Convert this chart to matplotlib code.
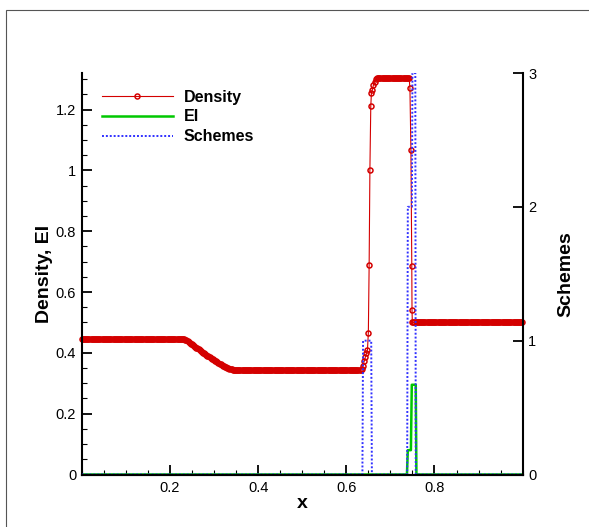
#!/usr/bin/env python3
"""Lax shock tube: density, EI indicator and scheme flag (Tecplot-like look)."""

import numpy as np
import matplotlib
matplotlib.use("Agg")
import matplotlib.pyplot as plt
from matplotlib.patches import Rectangle

plt.rcParams["font.family"] = ["Liberation Sans", "DejaVu Sans"]

# ---- data ----
DX = 0.0025  # cell spacing of the plotted solution

# constant states
rho_left = 0.445
rho_mid = 0.345
rho_post = 1.304
rho_right = 0.5

# rarefaction fan
fan_x = [0.2350, 0.2375, 0.2400, 0.2425, 0.2450, 0.2475, 0.2500, 0.2525, 0.2550,
         0.2575, 0.2600, 0.2625, 0.2650, 0.2675, 0.2700, 0.2725, 0.2750, 0.2775,
         0.2800, 0.2825, 0.2850, 0.2875, 0.2900, 0.2925, 0.2950, 0.2975, 0.3000,
         0.3025, 0.3050, 0.3075, 0.3100, 0.3125, 0.3150, 0.3175, 0.3200, 0.3225,
         0.3250, 0.3275, 0.3300, 0.3325, 0.3350, 0.3375, 0.3400, 0.3425, 0.3450]
fan_rho = [0.443, 0.441, 0.439, 0.436, 0.433, 0.4305, 0.428, 0.425, 0.422,
           0.4195, 0.417, 0.4145, 0.412, 0.409, 0.406, 0.4035, 0.401, 0.3985,
           0.396, 0.3935, 0.391, 0.3885, 0.386, 0.3835, 0.381, 0.3785, 0.376,
           0.374, 0.372, 0.3695, 0.367, 0.3645, 0.362, 0.360, 0.358, 0.356,
           0.354, 0.352, 0.350, 0.3485, 0.347, 0.346, 0.3455, 0.345, 0.345]

# contact discontinuity
contact_x = [0.635, 0.638, 0.6405, 0.643, 0.6455, 0.648, 0.650, 0.6518, 0.6535, 0.6555,
             0.657, 0.659, 0.6615, 0.664, 0.667]
contact_rho = [0.348, 0.358, 0.372, 0.385, 0.398, 0.41, 0.466, 0.69, 1.0, 1.21,
               1.255, 1.265, 1.28, 1.292, 1.30]

# shock
shock_x = [0.7443, 0.7465, 0.7485, 0.749, 0.7497]
shock_rho = [1.27, 1.068, 0.687, 0.542, 0.5]

# EI indicator (left axis)
ei_x = [0.0, 0.7375, 0.7395, 0.7465, 0.7485, 0.7575, 0.759, 1.0]
ei_val = [0.0, 0.0, 0.08, 0.08, 0.295, 0.295, 0.0, 0.0]

# scheme flag (right axis)
scheme_x = [0.0, 0.6365, 0.638, 0.6565, 0.658, 0.738, 0.7395, 0.7488, 0.750, 0.7565, 0.7575, 1.0]
scheme_val = [0, 0, 1, 1, 0, 0, 2, 2, 3, 3, 0, 0]


def plateau(x0, x1, value):
    xs = np.arange(x0, x1 + DX / 2, DX)
    return list(xs), [value] * len(xs)


segments = [
    plateau(0.0, 0.2325, rho_left),
    (fan_x, fan_rho),
    plateau(0.3475, 0.6325, rho_mid),
    (contact_x, contact_rho),
    plateau(0.67, 0.7425, rho_post),
    (shock_x, shock_rho),
    plateau(0.752, 1.0, rho_right),
]
x_rho = np.concatenate([np.asarray(s[0], dtype=float) for s in segments])
rho = np.concatenate([np.asarray(s[1], dtype=float) for s in segments])

RED = "#d40000"
GREEN = "#00c800"
BLUE = "#3030ff"

fig = plt.figure(figsize=(5.89, 5.27), dpi=100)
ax = fig.add_axes([81.7 / 589, 1 - 474.5 / 527, 441 / 589, 401.5 / 527])
ax2 = ax.twinx()

l_rho, = ax.plot(x_rho, rho, color=RED, lw=0.8, marker="o", markersize=3.6,
                 markerfacecolor="none", markeredgewidth=1.1, clip_on=False,
                 label="Density")
l_ei, = ax.plot(ei_x, ei_val, color=GREEN, lw=1.8, label="EI")
l_sch, = ax2.plot(scheme_x, scheme_val, color=BLUE, lw=1.4, linestyle=(0, (1, 1)),
                  label="Schemes")

ax.set_xlim(0, 1)
ax.set_ylim(0, 1.32)
ax2.set_ylim(0, 3)

ax.set_xticks([0.2, 0.4, 0.6, 0.8])
ax.set_xticks(np.arange(0.0, 1.0001, 0.05), minor=True)
ax.set_yticks([0, 0.2, 0.4, 0.6, 0.8, 1.0, 1.2])
ax.set_yticklabels(["0", "0.2", "0.4", "0.6", "0.8", "1", "1.2"])
ax.set_yticks(np.arange(0.0, 1.3001, 0.05), minor=True)
ax2.set_yticks([0, 1, 2, 3])
ax2.set_yticklabels(["0", "1", "2", "3"])

for a in (ax, ax2):
    a.tick_params(which="major", direction="in", length=7.2, width=1.3, labelsize=10.5, pad=4)
    a.tick_params(which="minor", direction="in", length=3.6, width=0.8)
    for s in a.spines.values():
        s.set_linewidth(1.5)
    a.spines["top"].set_visible(False)
ax.tick_params(axis="x", pad=5)
ax.spines["right"].set_visible(False)
ax2.spines["left"].set_visible(False)
ax2.tick_params(axis="x", which="both", bottom=False, labelbottom=False)
ax2.yaxis.set_minor_locator(matplotlib.ticker.NullLocator())

ax.set_xlabel("x", fontsize=14, fontweight="bold", labelpad=0)
ax.set_ylabel("Density, EI", fontsize=14, fontweight="bold", labelpad=2)
ax2.set_ylabel("Schemes", fontsize=14, fontweight="bold", labelpad=15)

ax2.legend(handles=[l_rho, l_ei, l_sch], loc="upper left",
           bbox_to_anchor=(0.045, 0.958), frameon=False, borderpad=0,
           borderaxespad=0, handlelength=4.45, handletextpad=0.7,
           labelspacing=0.29, prop={"weight": "bold", "size": 11.5})

# outer frame (only left and top edges fall inside the image)
fig.add_artist(Rectangle((6 / 589, -0.2), 2.0, 0.2 + 1 - 10 / 527,
                         transform=fig.transFigure, fill=False,
                         edgecolor="#555555", lw=0.8))

fig.savefig("out.png", dpi=100)
